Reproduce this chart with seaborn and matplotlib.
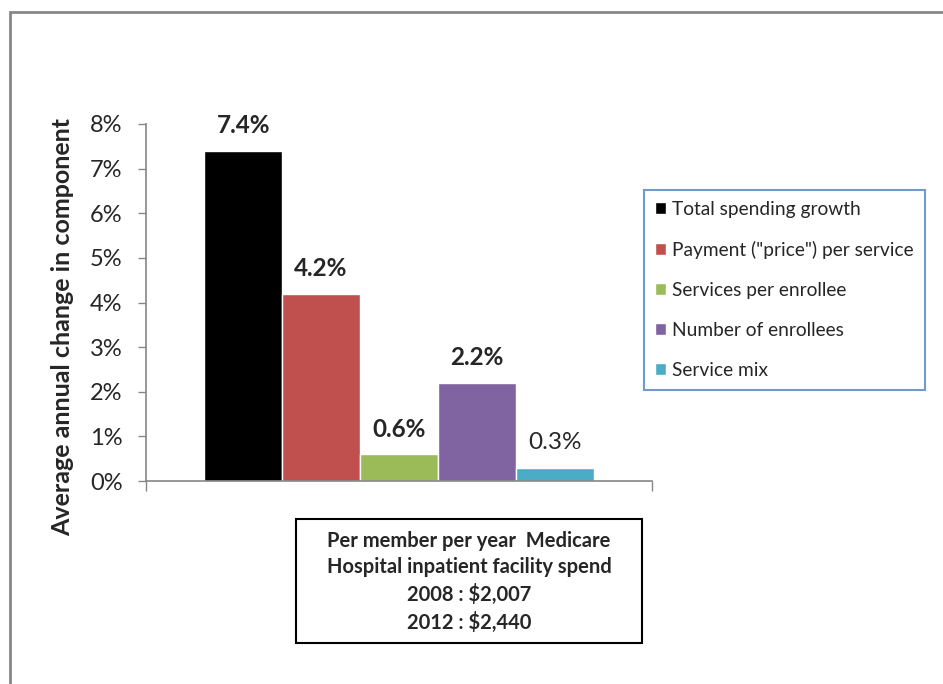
import matplotlib
matplotlib.use("Agg")
import matplotlib.pyplot as plt
from matplotlib.patches import Rectangle
import seaborn as sns
import pandas as pd

components = [
    "Total spending growth",
    'Payment ("price") per service',
    "Services per enrollee",
    "Number of enrollees",
    "Service mix",
]
growth = [0.074, 0.042, 0.006, 0.022, 0.003]
value_labels = ["7.4%", "4.2%", "0.6%", "2.2%", "0.3%"]
label_bold = [True, True, True, True, False]
colors = ["#000000", "#C0504D", "#9BBB59", "#8064A2", "#4BACC6"]
y_ticks = [0.00, 0.01, 0.02, 0.03, 0.04, 0.05, 0.06, 0.07, 0.08]
y_tick_labels = ["0%", "1%", "2%", "3%", "4%", "5%", "6%", "7%", "8%"]
note_lines = [
    "Per member per year  Medicare",
    "Hospital inpatient facility spend",
    "2008 : $2,007",
    "2012 : $2,440",
]

sns.set_style("white")
plt.rcParams["font.family"] = ["Lato", "DejaVu Sans"]

W, H = 943, 684
fig = plt.figure(figsize=(W / 100, H / 100), dpi=100)
fig.patch.set_facecolor("white")


def fx(px):
    return px / W


def fy(py):
    return 1 - py / H


ax = fig.add_axes([fx(146), fy(481), fx(652) - fx(146), fy(124) - fy(481)])

df = pd.DataFrame({"group": [""] * len(components), "component": components, "value": growth})
sns.barplot(
    data=df, x="group", y="value", hue="component", hue_order=components,
    palette=colors, width=0.77, saturation=1, ax=ax, legend=True,
)

ax.set_xlim(-0.5, 0.5)
ax.set_ylim(0, 0.08)
ax.set_yticks(y_ticks)
ax.set_yticklabels(y_tick_labels, fontsize=17)
ax.set_xticks([-0.5, 0.5])
ax.set_xticklabels(["", ""])
ax.set_xlabel("")
ax.set_ylabel("Average annual change in component", fontsize=18, fontweight="bold")
ax.yaxis.set_label_coords(-0.142, 0.43)
ax.tick_params(axis="y", direction="out", length=6, width=1, color="#868686", pad=11, left=True)
ax.tick_params(axis="x", direction="out", length=7, width=1, color="#868686", bottom=True)
for side in ["top", "right"]:
    ax.spines[side].set_visible(False)
for side in ["left", "bottom"]:
    ax.spines[side].set_color("#868686")
    ax.spines[side].set_linewidth(1.2)

for container, text, bold in zip(ax.containers, value_labels, label_bold):
    for bar in container:
        ax.annotate(
            text, (bar.get_x() + bar.get_width() / 2, bar.get_height()),
            xytext=(0, 18), textcoords="offset points", ha="center", va="center",
            fontsize=17.5, fontweight="bold" if bold else "normal",
        )

leg = ax.get_legend()
handles = leg.legend_handles
leg.remove()
leg = fig.legend(
    handles, components, loc="upper left",
    bbox_to_anchor=(fx(644), fy(190)), bbox_transform=fig.transFigure,
    frameon=True, fancybox=False, edgecolor="#4F81BD", fontsize=13.8,
    handlelength=0.6, handleheight=0.6, handletextpad=0.3,
    labelspacing=1.2, borderpad=0.57, borderaxespad=0,
)
leg.get_frame().set_linewidth(1.5)

# Summary box below the chart
fig.add_artist(Rectangle((fx(296), fy(643)), fx(642) - fx(296), fy(519) - fy(643),
                         transform=fig.transFigure, facecolor="white",
                         edgecolor="black", linewidth=1.5))
fig.text(fx(469), fy(582), "\n".join(note_lines), ha="center", va="center",
         fontsize=14.5, fontweight="bold", linespacing=1.4)

# Outer frame of the figure area
fig.add_artist(Rectangle((fx(10), fy(H + 20)), fx(W + 20) - fx(10), fy(12) - fy(H + 20),
                         transform=fig.transFigure, facecolor="none",
                         edgecolor="#878787", linewidth=2))

fig.savefig("out.png", dpi=100, facecolor="white")
